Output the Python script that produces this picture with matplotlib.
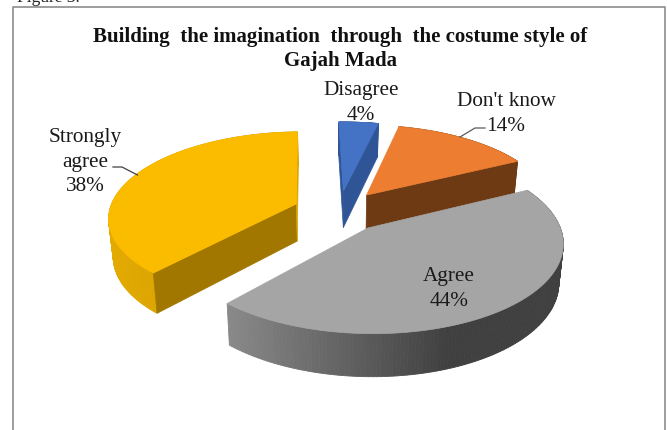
import numpy as np
import matplotlib
matplotlib.use('Agg')
import matplotlib.pyplot as plt
from matplotlib.colors import to_rgb

categories = ['Disagree', "Don't know", 'Agree', 'Strongly agree']
values = [4, 14, 44, 38]
label_text = ['Disagree\n4%', "Don't know\n14%", 'Agree\n44%', 'Strongly\nagree\n38%']
label_pos = [(361, 103), (506, 114), (449, 289), (85, 162)]
title = 'Building  the imagination  through  the costume style of\nGajah Mada'

top_colors = ['#4472C4', '#ED7D31', '#A5A5A5', '#FBBC00']
cut_colors = ['#2F5597', '#6E3A14', '#A17700', '#A17700']
end_colors = ['#2F5597', '#6E3A14', '#A5A5A5', '#D9A300']
# outer wall colour runs from the first to the second value, left to right on screen
wall_colors = [('#2F5597', '#2F5597'), ('#8A4A1C', '#6E3A14'),
               ('#8A8A8A', '#404040'), ('#E3AA00', '#C89600')]

# pie geometry in px, perspective projection of a flat disc
cx, cy = 339, 211
rx, ry = 187, 84.6
persp = 0.147
height = 37.5
shrink = 0.98
explode = 0.246
first_angle = np.radians(-1.5)


def project(x, y, low=False):
    w = 1 + persp * y
    sx = rx * x / w
    sy = ry * y / w
    if low:
        return cx + shrink * sx, cy - shrink * sy + height / w
    return cx + sx, cy - sy


def area(poly):
    x = [p[0] for p in poly]
    y = [p[1] for p in poly]
    return 0.5 * (np.dot(x, np.roll(y, 1)) - np.dot(y, np.roll(x, 1)))


fig = plt.figure(figsize=(6.67, 4.30), dpi=100)
ax = fig.add_axes([0, 0, 1, 1])
ax.set_xlim(0, 667)
ax.set_ylim(430, 0)
ax.axis('off')

plt.rcParams['font.family'] = ['Liberation Serif', 'DejaVu Serif']

# slices clockwise from the first angle
fractions = np.array(values) / sum(values)
ends = first_angle + np.cumsum(fractions) * 2 * np.pi
starts = ends - fractions * 2 * np.pi

# back slices first so the front one covers them
for i in [0, 1, 3, 2]:
    mid = (starts[i] + ends[i]) / 2
    ox, oy = explode * np.sin(mid), explode * np.cos(mid)
    t = np.linspace(starts[i], ends[i], 160)
    ax_x = ox + np.sin(t)
    ax_y = oy + np.cos(t)

    # outer wall, small strips to get the gradient
    up = [project(a, b) for a, b in zip(ax_x, ax_y)]
    lo = [project(a, b, True) for a, b in zip(ax_x, ax_y)]
    xs = [p[0] for p in up]
    c1, c2 = np.array(to_rgb(wall_colors[i][0])), np.array(to_rgb(wall_colors[i][1]))
    for j in range(len(t) - 1):
        if i == 2:
            f = min(max((xs[j] - 225) / 225, 0), 1)
        else:
            f = (xs[j] - min(xs)) / (max(xs) - min(xs))
        col = c1 + (c2 - c1) * f
        ax.fill([up[j][0], up[j + 1][0], lo[j + 1][0], lo[j][0]],
                [up[j][1], up[j + 1][1], lo[j + 1][1], lo[j][1]],
                color=col, lw=0.6, zorder=i + 1)

    # flat cut faces, only those turned to the viewer
    apex_up = project(ox, oy)
    apex_lo = project(ox, oy, True)
    face = [apex_up, up[0], lo[0], apex_lo]
    if area(face) > 0:
        ax.fill(*zip(*face), color=cut_colors[i], lw=0.5, zorder=i + 1)
    face = [apex_up, up[-1], lo[-1], apex_lo]
    if area(face) < 0:
        ax.fill(*zip(*face), color=end_colors[i], lw=0.5, zorder=i + 1)

    # top of the slice
    ax.fill(*zip(*([apex_up] + up)), color=top_colors[i], lw=0.5, zorder=i + 1)

# leader lines
ax.plot([113, 122, 137.5], [167, 167, 175], color='#404040', lw=0.9, zorder=8)
ax.plot([485, 475, 460], [128, 128, 137], color='#595959', lw=0.9, zorder=8)

for txt, pos in zip(label_text, label_pos):
    ax.text(pos[0], pos[1], txt, ha='center', va='center', fontsize=15.3,
            color='#1a1a1a', linespacing=1.36, zorder=9)

ax.text(340, 49, title, ha='center', va='center', fontsize=15, fontweight='bold',
        color='#111111', linespacing=1.3, zorder=9)

# chart frame and the caption cut off above it
ax.plot([13, 13, 665, 665], [430, 6.5, 6.5, 430], color='#8c8c8c', lw=1.2, zorder=10)
ax.text(17, 2, 'Figure 3.', ha='left', va='baseline', fontsize=12.5, color='#222222',
        clip_on=True, zorder=9)

fig.savefig('out.png', dpi=100)
